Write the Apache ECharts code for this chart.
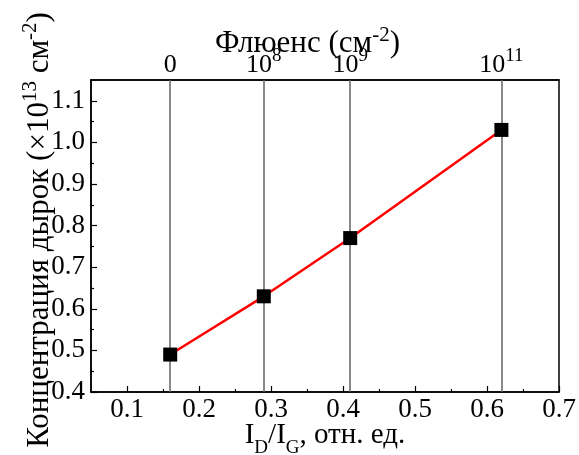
<!DOCTYPE html>
<html>
<head>
<meta charset="utf-8">
<script src="https://cdn.jsdelivr.net/npm/echarts@6/dist/echarts.min.js"></script>
<style>html,body{margin:0;padding:0;background:#fff;}#c{width:579px;height:455px;}</style>
</head>
<body>
<div id="c"></div>
<script>
// Data
const ratioID_IG = [0.16, 0.29, 0.41, 0.62];
const holeConc = [0.49, 0.63, 0.77, 1.03];
const fluenceBase = ['0', '10', '10', '10'];
const fluenceExp = ['', '8', '9', '11'];
const xMajorTicks = [0.1, 0.2, 0.3, 0.4, 0.5, 0.6, 0.7];
const xMinorTicks = [0.15, 0.25, 0.35, 0.45, 0.55, 0.65];
const yMajorTicks = [0.4, 0.5, 0.6, 0.7, 0.8, 0.9, 1.0, 1.1];
const yMinorTicks = [0.45, 0.55, 0.65, 0.75, 0.85, 0.95, 1.05];

const FONT = '"Liberation Serif", "Times New Roman", serif';
const chart = echarts.init(document.getElementById('c'), null, {renderer: 'canvas'});

function fluenceLabel(v) {
  let i = ratioID_IG.findIndex(r => Math.abs(r - v) < 1e-6);
  if (i < 0) return '';
  return fluenceExp[i] ? '{b|' + fluenceBase[i] + '}{s|' + fluenceExp[i] + '}' : '{b|' + fluenceBase[i] + '}';
}

const supRich = {
  b: {fontFamily: FONT, fontWeight: 'normal', fontSize: 26, color: '#000', verticalAlign: 'bottom', lineHeight: 30},
  s: {fontFamily: FONT, fontWeight: 'normal', fontSize: 19, color: '#000', verticalAlign: 'bottom', padding: [0, 0, 12, 0], lineHeight: 20}
};
const titleRich = {
  b: {fontFamily: FONT, fontWeight: 'normal', fontSize: 31, color: '#000', verticalAlign: 'bottom', lineHeight: 34},
  s: {fontFamily: FONT, fontWeight: 'normal', fontSize: 21, color: '#000', verticalAlign: 'bottom', padding: [0, 0, 13, 0], lineHeight: 22}
};
const tickRich = {t: {fontFamily: FONT, fontWeight: 'normal', fontSize: 27, color: '#000', lineHeight: 28}};

const option = {
  animation: false,
  backgroundColor: '#fff',
  textStyle: {fontFamily: FONT, fontWeight: 'normal', color: '#000'},
  grid: {left: 91, right: 20, top: 80, bottom: 63, outerBoundsMode: 'none', containLabel: false,
    show: true, borderColor: '#000', borderWidth: 1.5, backgroundColor: 'transparent'},
  title: {
    text: '{b|Флюенс (см}{s|-2}{b|)}',
    left: 215, top: 25, padding: 0,
    textStyle: {fontFamily: FONT, fontWeight: 'normal', fontSize: 31, color: '#000', rich: titleRich}
  },
  xAxis: [
    {
      type: 'value', position: 'bottom', min: 0.05, max: 0.7, interval: 0.05,
      axisLine: {show: true, onZero: false, lineStyle: {color: '#000', width: 1.5}},
      axisTick: {show: true, inside: true, length: 6, customValues: xMajorTicks, lineStyle: {color: '#000', width: 1.2}},
      axisLabel: {show: true, customValues: xMajorTicks, margin: 4, formatter: v => '{t|' + v.toFixed(1) + '}', rich: tickRich},
      splitLine: {show: false},
      name: '{b|I}{d|D}{b|/I}{d|G}{b|, отн. ед.}',
      nameLocation: 'middle', nameGap: 29, nameMoveOverlap: false,
      nameTextStyle: {fontFamily: FONT, fontSize: 29, color: '#000', rich: {
        b: {fontFamily: FONT, fontSize: 29, color: '#000', verticalAlign: 'top', lineHeight: 30},
        d: {fontFamily: FONT, fontSize: 19, color: '#000', verticalAlign: 'top', padding: [18, 0, 0, 0], lineHeight: 20}
      }}
    },
    {
      type: 'value', position: 'bottom', min: 0.05, max: 0.7, interval: 0.05,
      axisLine: {show: false, onZero: false},
      axisTick: {show: true, inside: true, length: 3, customValues: xMinorTicks, lineStyle: {color: '#000', width: 1.2}},
      axisLabel: {show: false},
      splitLine: {show: false}
    },
    {
      type: 'value', position: 'top', min: 0.05, max: 0.7, interval: 0.05,
      axisLine: {show: true, onZero: false, lineStyle: {color: '#000', width: 1.5}},
      axisTick: {show: false},
      axisLabel: {show: true, customValues: ratioID_IG, margin: 2, formatter: fluenceLabel, rich: supRich},
      splitLine: {show: false}
    }
  ],
  yAxis: [
    {
      type: 'value', position: 'left', min: 0.4, max: 1.15, interval: 0.05,
      axisLine: {show: true, onZero: false, lineStyle: {color: '#000', width: 1.5}},
      axisTick: {show: true, inside: true, length: 6, customValues: yMajorTicks, lineStyle: {color: '#000', width: 1.2}},
      axisLabel: {show: true, customValues: yMajorTicks, margin: 6, formatter: v => '{t|' + v.toFixed(1) + '}', rich: tickRich},
      splitLine: {show: false},
      name: '{b|Концентрация дырок (×10}{s|13}{b| см}{s|-2}{b|)}',
      nameLocation: 'middle', nameGap: 36, nameRotate: 90, nameMoveOverlap: false,
      nameTextStyle: {fontFamily: FONT, fontSize: 31, color: '#000', padding: [0, 0, 0, 12], rich: {
        b: {fontFamily: FONT, fontSize: 31, color: '#000', verticalAlign: 'bottom', lineHeight: 32},
        s: {fontFamily: FONT, fontSize: 21, color: '#000', verticalAlign: 'bottom', padding: [0, 0, 14, 0], lineHeight: 20}
      }}
    },
    {
      type: 'value', position: 'left', min: 0.4, max: 1.15, interval: 0.05,
      axisLine: {show: false, onZero: false},
      axisTick: {show: true, inside: true, length: 3, customValues: yMinorTicks, lineStyle: {color: '#000', width: 1.2}},
      axisLabel: {show: false},
      splitLine: {show: false}
    }
  ],
  series: [
    {
      type: 'line', xAxisIndex: 0, yAxisIndex: 0,
      data: ratioID_IG.map((x, i) => [x, holeConc[i]]),
      symbol: 'rect', symbolSize: 14,
      itemStyle: {color: '#000'},
      lineStyle: {color: '#ff0000', width: 2.5},
      z: 5,
      markLine: {
        silent: true, symbol: ['none', 'none'], animation: false,
        label: {show: false},
        lineStyle: {color: '#606060', width: 1.5, type: 'solid'},
        data: ratioID_IG.map(x => ({xAxis: x})),
        z: 1
      }
    }
  ]
};
chart.setOption(option);
</script>
</body>
</html>
